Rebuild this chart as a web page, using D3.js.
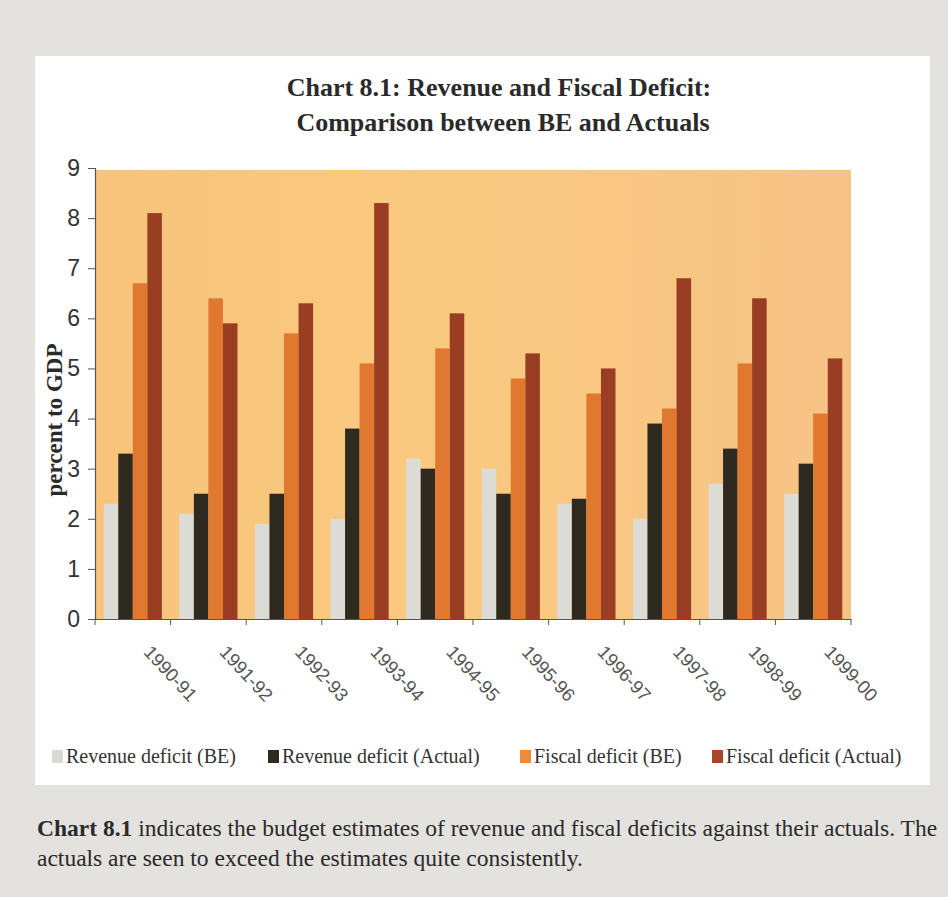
<!DOCTYPE html>
<html>
<head>
<meta charset="utf-8">
<script src="https://cdn.jsdelivr.net/npm/d3@7"></script>
<style>
  html, body { margin: 0; padding: 0; background: #e4e2de; }
  svg { display: block; }
</style>
</head>
<body>
<svg id="chart" width="948" height="897"></svg>
<script>
// Fiscal years on the category axis
const years = ["1990-91", "1991-92", "1992-93", "1993-94", "1994-95",
               "1995-96", "1996-97", "1997-98", "1998-99", "1999-00"];

// Deficits, percent to GDP
const revenueBE     = [2.3, 2.1, 1.9, 2.0, 3.2, 3.0, 2.3, 2.0, 2.7, 2.5];
const revenueActual = [3.3, 2.5, 2.5, 3.8, 3.0, 2.5, 2.4, 3.9, 3.4, 3.1];
const fiscalBE      = [6.7, 6.4, 5.7, 5.1, 5.4, 4.8, 4.5, 4.2, 5.1, 4.1];
const fiscalActual  = [8.1, 5.9, 6.3, 8.3, 6.1, 5.3, 5.0, 6.8, 6.4, 5.2];

const seriesNames = ["Revenue deficit (BE)", "Revenue deficit (Actual)",
                     "Fiscal deficit (BE)", "Fiscal deficit (Actual)"];
const seriesColors = ["#dddbd5", "#2f2a20", "#e1782f", "#9a3e23"];
const legendColors = ["#d9d8d4", "#2f2a20", "#ef8a3a", "#a3482a"];
const yTicks = [0, 1, 2, 3, 4, 5, 6, 7, 8, 9];

const seriesValues = [revenueBE, revenueActual, fiscalBE, fiscalActual];

const svg = d3.select("#chart");

// White card holding the chart
svg.append("rect")
  .attr("x", 35).attr("y", 56).attr("width", 895).attr("height", 729)
  .attr("fill", "#ffffff");

// Title
const title = svg.append("text")
  .attr("text-anchor", "middle")
  .attr("font-family", "'Liberation Serif', 'DejaVu Serif', serif")
  .attr("font-weight", "bold")
  .attr("font-size", 26)
  .attr("fill", "#2a2a2a");
title.append("tspan").attr("x", 499).attr("y", 96)
  .text("Chart 8.1: Revenue and Fiscal Deficit:");
title.append("tspan").attr("x", 503).attr("y", 131)
  .text("Comparison between BE and Actuals");

const plotLeft = 95, plotRight = 851, plotTop = 168, plotBottom = 619;

const x = d3.scaleBand().domain(years).range([plotLeft, plotRight]).paddingInner(0).paddingOuter(0);
const x1 = d3.scaleBand().domain(d3.range(4)).range([0, x.bandwidth()])
  .paddingInner(0).paddingOuter(0.6);
const y = d3.scaleLinear().domain([0, 9]).range([plotBottom, plotTop]);

// Plot area background gradient
const defs = svg.append("defs");
const grad = defs.append("linearGradient").attr("id", "plotBg")
  .attr("x1", "0%").attr("y1", "0%").attr("x2", "100%").attr("y2", "0%");
grad.append("stop").attr("offset", "0%").attr("stop-color", "#f8c47c");
grad.append("stop").attr("offset", "50%").attr("stop-color", "#fac980");
grad.append("stop").attr("offset", "100%").attr("stop-color", "#f6c385");

svg.append("rect")
  .attr("x", plotLeft).attr("y", y(9) + 2)
  .attr("width", plotRight - plotLeft).attr("height", plotBottom - y(9) - 2)
  .attr("fill", "url(#plotBg)");

// Bars
const groups = svg.append("g").selectAll("g")
  .data(years)
  .join("g")
  .attr("transform", d => `translate(${x(d)},0)`);

groups.selectAll("rect")
  .data((d, i) => seriesValues.map((vals, s) => ({ s, v: vals[i] })))
  .join("rect")
  .attr("x", d => x1(d.s))
  .attr("width", x1.bandwidth())
  .attr("y", d => y(d.v))
  .attr("height", d => y(0) - y(d.v))
  .attr("fill", d => seriesColors[d.s]);

// Y axis
const yAxis = svg.append("g")
  .attr("transform", `translate(${plotLeft},0)`)
  .call(d3.axisLeft(y).tickValues(yTicks).tickSize(7).tickPadding(8).tickFormat(d3.format("d")));
yAxis.select(".domain").attr("stroke", "#555").attr("stroke-width", 1.2);
yAxis.selectAll(".tick line").attr("stroke", "#555");
yAxis.selectAll("text")
  .attr("font-family", "'Liberation Sans', Arial, sans-serif")
  .attr("font-size", 23)
  .attr("fill", "#333");

// X axis with ticks at category boundaries
const xAxis = svg.append("g")
  .attr("transform", `translate(0,${plotBottom})`)
  .call(d3.axisBottom(x).tickSize(0).tickFormat(""));
xAxis.select(".domain").attr("stroke", "#555").attr("stroke-width", 1.2);
xAxis.selectAll(".tick").remove();
xAxis.selectAll("line.boundary")
  .data(years.map(d => x(d)).concat([plotRight]))
  .join("line")
  .attr("class", "boundary")
  .attr("x1", d => d).attr("x2", d => d)
  .attr("y1", 0).attr("y2", 6)
  .attr("stroke", "#555");

// Rotated category labels
svg.append("g").selectAll("text")
  .data(years)
  .join("text")
  .attr("transform", d => `translate(${x(d) + x.bandwidth() / 2 + 10},${plotBottom + 34}) rotate(47)`)
  .attr("font-family", "'Liberation Sans', Arial, sans-serif")
  .attr("font-size", 18.5)
  .attr("fill", "#555")
  .text(d => d);

// Y axis title
svg.append("text")
  .attr("transform", `translate(62,420) rotate(-90)`)
  .attr("text-anchor", "middle")
  .attr("font-family", "'Liberation Serif', 'DejaVu Serif', serif")
  .attr("font-weight", "bold")
  .attr("font-size", 23)
  .attr("fill", "#2a2a2a")
  .text("percent to GDP");

// Legend
const legendX = [52, 268, 520, 712];
const legend = svg.append("g").selectAll("g")
  .data(seriesNames)
  .join("g")
  .attr("transform", (d, i) => `translate(${legendX[i]},757)`);
legend.append("rect")
  .attr("x", 0).attr("y", -7).attr("width", 11).attr("height", 13)
  .attr("fill", (d, i) => legendColors[i]);
legend.append("text")
  .attr("x", 14).attr("y", 6)
  .attr("font-family", "'Liberation Serif', 'DejaVu Serif', serif")
  .attr("font-size", 20)
  .attr("fill", "#333")
  .text(d => d);

// Caption paragraph below the card
const para = svg.append("text")
  .attr("font-family", "'Liberation Serif', 'DejaVu Serif', serif")
  .attr("font-size", 23.5)
  .attr("fill", "#2a2a2a");
const line1 = para.append("tspan").attr("x", 37).attr("y", 836);
line1.append("tspan").attr("font-weight", "bold").text("Chart 8.1");
line1.append("tspan").text(" indicates the budget estimates of revenue and fiscal deficits against their actuals. The");
para.append("tspan").attr("x", 37).attr("y", 866)
  .text("actuals are seen to exceed the estimates quite consistently.");
</script>
</body>
</html>
